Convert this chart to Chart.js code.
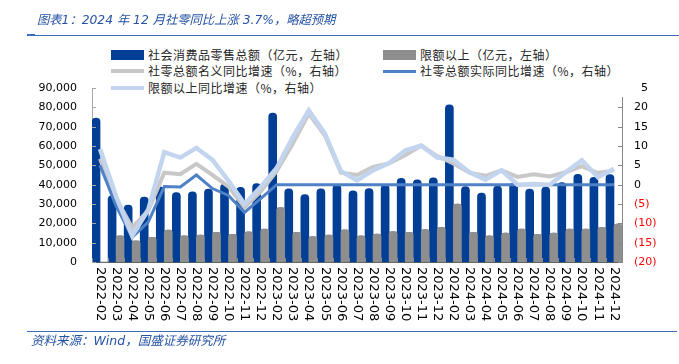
<!DOCTYPE html>
<html><head><meta charset="utf-8">
<script src="https://cdn.jsdelivr.net/npm/chart.js@4.4.1/dist/chart.umd.min.js"></script>
<style>
body{margin:0;background:#fff;}
#wrap{position:relative;width:679px;height:364px;overflow:hidden;background:#fff;}
#c{position:absolute;left:0;top:0;}
.title{position:absolute;left:37px;top:11px;font-family:"DejaVu Sans","Noto Sans CJK SC",sans-serif;font-size:12.3px;font-style:italic;color:#2452A4;white-space:nowrap;line-height:18px;}
.hline{position:absolute;height:1px;background:#3C6DBF;}
.foot{position:absolute;left:31px;top:332px;font-family:"DejaVu Sans","Noto Sans CJK SC",sans-serif;font-size:12.5px;font-style:italic;color:#2452A4;white-space:nowrap;line-height:18px;}
#legend{position:absolute;left:105px;top:44px;width:535px;height:53px;background:#fff;}
.li{position:absolute;font-family:"Noto Sans CJK SC",sans-serif;font-size:12px;letter-spacing:0.5px;color:#262626;white-space:nowrap;line-height:16px;}
.sw{position:absolute;}
</style></head>
<body>
<div id="wrap">
<canvas id="c" width="679" height="364"></canvas>
<div class="title">图表1：2024 年 12 月社零同比上涨 3.7%，略超预期</div>
<div class="hline" style="left:27px;top:35px;width:652px;"></div>
<div class="hline" style="left:27px;top:34px;width:8px;height:2px;"></div>
<div id="legend"></div>
<div class="hline" style="left:27px;top:331px;width:650px;"></div>
<div class="foot">资料来源：Wind，国盛证券研究所</div>
</div>
<script>
const categories = ['2022-02','2022-03','2022-04','2022-05','2022-06','2022-07','2022-08','2022-09','2022-10','2022-11','2022-12',
  '2023-02','2023-03','2023-04','2023-05','2023-06','2023-07','2023-08','2023-09','2023-10','2023-11','2023-12',
  '2024-02','2024-03','2024-04','2024-05','2024-06','2024-07','2024-08','2024-09','2024-10','2024-11','2024-12'];
// 社会消费品零售总额（亿元）
const retailTotal = [74426,34233,29483,33547,38742,35870,36258,37745,40271,38615,40542,
  77067,37789,34910,37803,39951,36761,37933,39826,43333,42505,43550,
  81307,39020,35699,39211,40732,37757,38726,41112,45396,43763,45172];
// 限额以上（亿元）
const aboveQuota = [null,13600,11000,12700,16500,13600,13900,15300,14300,15600,17000,
  28200,15300,13200,13900,16700,13600,14400,15700,15300,16800,17900,
  29900,15300,13600,14900,17000,14300,14900,17000,17000,17900,19600];
// 社零总额名义同比增速（%）
const nominalYoY = [6.7,-3.5,-11.1,-6.7,3.1,2.7,5.4,2.5,-0.5,-5.9,-1.8,
  3.5,10.6,18.4,12.7,3.1,2.5,4.6,5.5,7.6,10.1,7.4,
  5.5,3.1,2.3,3.7,2.0,2.7,2.1,3.2,4.8,3.0,3.7];
// 社零总额实际同比增速（%）
const realYoY = [5.0,-5.5,-13.6,-9.7,-0.5,-0.6,2.5,-1.0,-2.8,-7.2,-3.6,
  0,0,0,0,0,0,0,0,0,0,0,
  0,0,0,0,0,0,0,0,0,0,0];
// 限额以上同比增速（%）
const aboveQuotaYoY = [9.2,-3.0,-13.2,-6.5,8.4,7.0,9.5,6.4,1.0,-5.0,-0.6,
  4.3,12.3,19.2,13.2,3.5,1.1,3.7,5.6,8.8,10.1,7.0,
  6.5,3.2,1.3,3.7,0.0,0.2,0.0,3.2,6.3,1.9,4.1];
const leftTicks = [0,10000,20000,30000,40000,50000,60000,70000,80000,90000];
const rightTicks = [-20,-15,-10,-5,0,5,10,15,20,25];

const legendItems = [
  {text:'社会消费品零售总额（亿元，左轴）', kind:'rect', color:'#013F97', x:6, y:11},
  {text:'限额以上（亿元，左轴）', kind:'rect', color:'#8E8E8E', x:278, y:11},
  {text:'社零总额名义同比增速（%，右轴）', kind:'line', color:'#C8C8C8', w:4, x:6, y:27},
  {text:'社零总额实际同比增速（%，右轴）', kind:'line', color:'#4F81C6', w:3, x:278, y:27},
  {text:'限额以上同比增速（%，右轴）', kind:'line', color:'#C3D5EE', w:4, x:6, y:44}
];
const lg = document.getElementById('legend');
legendItems.forEach(it=>{
  const s=document.createElement('div'); s.className='sw';
  if(it.kind==='rect'){ s.style.cssText=`left:${it.x}px;top:${it.y-5}px;width:33px;height:10px;background:${it.color};`; }
  else { s.style.cssText=`left:${it.x}px;top:${it.y-it.w/2}px;width:33px;height:${it.w}px;background:${it.color};`; }
  lg.appendChild(s);
  const t=document.createElement('div'); t.className='li'; t.textContent=it.text;
  t.style.left=(it.x+37)+'px'; t.style.top=(it.y-8)+'px'; lg.appendChild(t);
});

const axisFont = {family:'"DejaVu Sans"', size:11};
const decorPlugin = {
  id:'decor',
  afterDatasetDraw(chart,args){
    // draw gray bars above blue bars (overlap like the original)
    if(args.meta.index===4){
      const m=chart.getDatasetMeta(3);
      const ctx=chart.ctx; ctx.save();
      m.data.forEach(el=>{ if(!el.skip && el.y!=null) el.draw(ctx, chart.chartArea); });
      ctx.restore();
    }
  },
  afterDraw(chart){
    const {ctx, chartArea:a, scales:{x,y,y1}} = chart;
    ctx.save(); ctx.lineWidth=1;
    ctx.strokeStyle='#A6A6A6';
    leftTicks.forEach(v=>{const py=Math.round(y.getPixelForValue(v))+0.5; ctx.beginPath(); ctx.moveTo(a.left,py); ctx.lineTo(a.left+4,py); ctx.stroke();});
    ctx.strokeStyle='#868686';
    rightTicks.forEach(v=>{const py=Math.round(y1.getPixelForValue(v))+0.5; ctx.beginPath(); ctx.moveTo(a.right-4,py); ctx.lineTo(a.right,py); ctx.stroke();});
    const n=categories.length, w=(x.right-x.left)/n;
    ctx.strokeStyle='#8C8C8C';
    for(let i=0;i<=n;i++){const px=Math.round(x.getPixelForValue(Math.min(i,n-1)) + (i===n? w/2 : -w/2))+0.5; ctx.beginPath(); ctx.moveTo(px,a.bottom); ctx.lineTo(px,a.bottom-4); ctx.stroke();}
    ctx.fillStyle='#000'; ctx.font='13px "DejaVu Sans"'; ctx.textAlign='left'; ctx.textBaseline='middle';
    categories.forEach((c,i)=>{const px=x.getPixelForValue(i); ctx.save(); ctx.translate(px, a.bottom+5); ctx.rotate(Math.PI/2); ctx.fillText(c,0,0); ctx.restore();});
    ctx.restore();
  }
};

new Chart(document.getElementById('c'), {
  type:'bar',
  data:{labels:categories, datasets:[
    {type:'line', label:'限额以上同比增速（%，右轴）', data:aboveQuotaYoY, yAxisID:'y1', borderColor:'#C3D5EE', borderWidth:4.5, pointRadius:0, order:0},
    {type:'line', label:'社零总额实际同比增速（%，右轴）', data:realYoY, yAxisID:'y1', borderColor:'#4F81C6', borderWidth:3, pointRadius:0, order:1},
    {type:'line', label:'社零总额名义同比增速（%，右轴）', data:nominalYoY, yAxisID:'y1', borderColor:'#C8C8C8', borderWidth:4, pointRadius:0, order:2},
    {label:'限额以上（亿元，左轴）', data:aboveQuota, yAxisID:'y', backgroundColor:'#8E8E8E', order:4, barThickness:8, borderRadius:{topLeft:3,topRight:3}, borderSkipped:'start'},
    {label:'社会消费品零售总额（亿元，左轴）', data:retailTotal, yAxisID:'y', backgroundColor:'#013F97', order:3, barThickness:8, borderRadius:{topLeft:4,topRight:4}, borderSkipped:'start'}
  ]},
  options:{
    responsive:false, animation:false, devicePixelRatio:1,
    layout:{padding:{top:88,left:0,right:0,bottom:0}},
    plugins:{legend:{display:false}, tooltip:{enabled:false}},
    datasets:{bar:{categoryPercentage:0.625}},
    scales:{
      x:{offset:true, grid:{display:false, drawTicks:false}, border:{display:true,color:'#595959',width:1}, ticks:{display:false}, afterFit(s){s.height=102;}},
      y:{position:'left', min:0, max:90000, grid:{display:false, drawTicks:false}, border:{display:true,color:'#A6A6A6'},
         afterBuildTicks(s){s.ticks=leftTicks.map(v=>({value:v}));},
         ticks:{font:axisFont, color:'#000', padding:15, callback:v=>v.toLocaleString('en-US')}, afterFit(s){s.width=92;}},
      y1:{position:'right', min:-20, max:25, grid:{display:false, drawTicks:false}, border:{display:true,color:'#868686'},
         afterBuildTicks(s){s.ticks=rightTicks.map(v=>({value:v}));},
         ticks:{font:axisFont, padding:12, color:c=>c.tick && c.tick.value<0?'#FF0000':'#000', callback:v=>v<0?'('+(-v)+')':String(v)}, afterFit(s){s.width=57;}}
    }
  },
  plugins:[decorPlugin]
});
</script>
</body></html>
